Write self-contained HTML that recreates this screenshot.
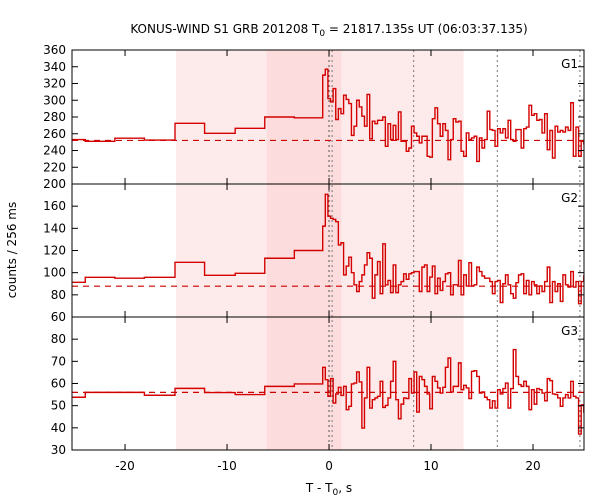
<!DOCTYPE html>
<html><head><meta charset="utf-8"><style>
html,body{margin:0;padding:0;background:#fff;}
svg{display:block;font-family:"DejaVu Sans","Liberation Sans",sans-serif;}
</style></head><body>
<svg id="chart" width="600" height="500" viewBox="0 0 600 500" xmlns="http://www.w3.org/2000/svg">
<defs><clipPath id="plotclip"><rect x="72" y="50" width="512" height="400"/></clipPath></defs>
<text x="329" y="33" text-anchor="middle" font-size="12">KONUS-WIND S1 GRB 201208 T<tspan font-size="9" dy="3">0</tspan><tspan dy="-3"> = 21817.135s UT (06:03:37.135)</tspan></text>
<text transform="translate(16,250) rotate(-90)" text-anchor="middle" font-size="12">counts / 256 ms</text>
<text x="329" y="492" text-anchor="middle" font-size="12">T - T<tspan font-size="9" dy="3">0</tspan><tspan dy="-3">, s</tspan></text>
<g id="layer"></g>
</svg>
<script>
const coarseEdges = [-25.2, -23.9, -21.0, -18.1, -15.1, -12.2, -9.2, -6.3, -3.4, -0.62];
const fineStart = -0.62;
const fineWidth = 0.256;
const g1Coarse = [253, 251, 254.7, 252.5, 272.5, 260.5, 266.5, 280, 279];
const g1Fine = [330,337,302,298,314,277,290,284,306,301,296,258,269,300,292,281,269,307,254,275,272,276,276,280,245,272,253,270,253,286,251,251,239,243,269,261,257,249,257,257,233,232,278,291,272,257,272,264,229,253,278,274,275,239,233,261,253,255,257,227,255,243,253,287,265,264,245,266,261,266,255,276,253,251,265,265,243,266,268,294,282,284,276,277,261,284,241,264,231,269,262,264,262,268,264,297,233,268,233,251,248,245,241,233,274];
const g2Coarse = [91.3, 95.8, 95, 95.8, 109.3, 97.6, 99.4, 113, 120];
const g2Fine = [142,170.7,151,149,148,146,125,127,98,106,114,100,89,83,92,98,107,118,113,77,98,110,81,126,89,93,82,107,82,89,92,99,94,99,100,101,101,83,105,107,83,96,106,81,95,84,92,99,100,80,89,89,111,80,98,88,109,88,89,105,101,97,95,95,92,81,92,93,73,90,98,89,81,77,91,98,99,81,93,80,92,89,81,88,83,92,105,73,92,83,90,74,98,89,87,101,87,92,72,92,97,89,96,89,85];
const g3Coarse = [53.8, 56.0, 56.0, 54.7, 57.8, 55.9, 55.0, 58.7, 59.8];
const g3Fine = [67.3,61.7,54.2,62.2,51.2,55.3,58.3,54.6,58.7,48.2,49.7,59.8,60.2,65.2,60.7,39.9,53.5,67.3,48.9,52.7,53.5,54.2,61,49.2,50.1,53.5,61,70,52.7,44.1,50.7,53.5,53.2,62.2,55.7,65.2,47.1,63.2,61.7,58.7,55.3,48.6,63.2,61,58,55.7,58.3,67.3,71.5,56.2,58.7,58.7,69.3,57.2,59.2,58,53.2,65.5,65.8,63.2,55.7,56.2,53.8,52.7,48.9,52.2,48.9,57.2,55.3,57.7,60.2,48.9,57.7,75.3,63.2,59.5,58.7,61,58.7,48.2,57.2,50.7,57.7,57.2,55.7,52.2,62.2,61.3,55.3,55,53.5,49.7,53.5,55,53.5,61,54.2,53.5,37.2,50.4,47.1,54.2,50.4,58.7];
const backgrounds = [252, 87.8, 56.0];
const panelNames = ["G1", "G2", "G3"];
const g1Ticks = [200,220,240,260,280,300,320,340,360];
const g2Ticks = [60,80,100,120,140,160];
const g3Ticks = [30,40,50,60,70,80];
const xTicks = [-20,-10,0,10,20];
const shadeOuter = [-15.0, 13.2];
const shadeInner = [-6.1, 1.2];
const vlines = [0, 0.3, 8.3, 16.5, 24.6];

const NS = "http://www.w3.org/2000/svg";
const layer = document.getElementById('layer');
const X0 = 72, X1 = 584, TMIN = -25.2, TMAX = 25.0;
function xs(t){ return X0 + (t - TMIN) / (TMAX - TMIN) * (X1 - X0); }
const panels = [
  {top:50, bot:184, min:200, max:360, coarse:g1Coarse, fine:g1Fine, ticks:g1Ticks},
  {top:184, bot:317, min:60, max:180, coarse:g2Coarse, fine:g2Fine, ticks:g2Ticks},
  {top:317, bot:450, min:30, max:90, coarse:g3Coarse, fine:g3Fine, ticks:g3Ticks}
];
function mk(tag, attrs, parent){
  const e = document.createElementNS(NS, tag);
  for (const k in attrs) e.setAttribute(k, attrs[k]);
  (parent || layer).appendChild(e);
  return e;
}
let r = mk('rect', {x: xs(shadeOuter[0]), y: 50, width: xs(shadeOuter[1]) - xs(shadeOuter[0]), height: 400, fill: '#fdeaea'});


r = mk('rect', {x: xs(shadeInner[0]), y: 50, width: xs(shadeInner[1]) - xs(shadeInner[0]), height: 400, fill: '#fcdcdc'});


vlines.forEach((t, i) => {
  const l = mk('line', {x1: xs(t), x2: xs(t), y1: 50, y2: 450, stroke: i === 0 ? '#555' : '#777', 'stroke-width': 1, 'stroke-dasharray': '2,3'});
  
  
});
panels.forEach((p, pi) => {
  const ys = v => p.bot - (v - p.min) / (p.max - p.min) * (p.bot - p.top);
  const g = mk('g', {'clip-path': 'url(#plotclip)'});
  
  
  const bl = mk('line', {x1: X0, x2: X1, y1: ys(backgrounds[pi]), y2: ys(backgrounds[pi]), stroke: '#cc0000', 'stroke-width': 1.2, 'stroke-dasharray': '6,5'}, g);
  
  
  const pts = [];
  p.coarse.forEach((v, i) => {
    pts.push([xs(coarseEdges[i]), ys(v)], [xs(coarseEdges[i + 1]), ys(v)]);
  });
  p.fine.forEach((v, i) => {
    const ta = fineStart + i * fineWidth;
    if (ta > TMAX + 1) return;
    pts.push([xs(ta), ys(v)], [xs(ta + fineWidth), ys(v)]);
  });
  let d = 'M' + pts[0][0].toFixed(2) + ' ' + pts[0][1].toFixed(2);
  for (let i = 1; i < pts.length; i++) {
    d += ' L' + pts[i][0].toFixed(2) + ' ' + pts[i][1].toFixed(2);
  }
  const path = mk('path', {d: d, fill: 'none', stroke: '#d40000', 'stroke-width': 1.4, 'stroke-linejoin': 'miter', 'stroke-linecap': 'square'}, g);
  
  
  const fr = mk('rect', {x: X0, y: p.top, width: X1 - X0, height: p.bot - p.top, fill: 'none', stroke: '#000', 'stroke-width': 1});
  
  
  p.ticks.forEach(v => {
    const y = ys(v);
    mk('line', {x1: X0, x2: X0 + 6, y1: y, y2: y, stroke: '#000'});
    mk('line', {x1: X1, x2: X1 - 6, y1: y, y2: y, stroke: '#000'});
    const t = mk('text', {x: X0 - 6, y: y + 4, 'text-anchor': 'end', 'font-size': 12});
    
    
    t.textContent = v;
  });
  xTicks.forEach(tv => {
    const x = xs(tv);
    mk('line', {x1: x, x2: x, y1: p.top, y2: p.top + 6, stroke: '#000'});
    mk('line', {x1: x, x2: x, y1: p.bot, y2: p.bot - 6, stroke: '#000'});
  });
  const lab = mk('text', {x: 578, y: p.top + 18, 'text-anchor': 'end', 'font-size': 12});
  
  
  lab.textContent = panelNames[pi];
});
xTicks.forEach(tv => {
  const t = mk('text', {x: xs(tv), y: 470, 'text-anchor': 'middle', 'font-size': 12});
  
  
  t.textContent = tv;
});
</script>
</body></html>
